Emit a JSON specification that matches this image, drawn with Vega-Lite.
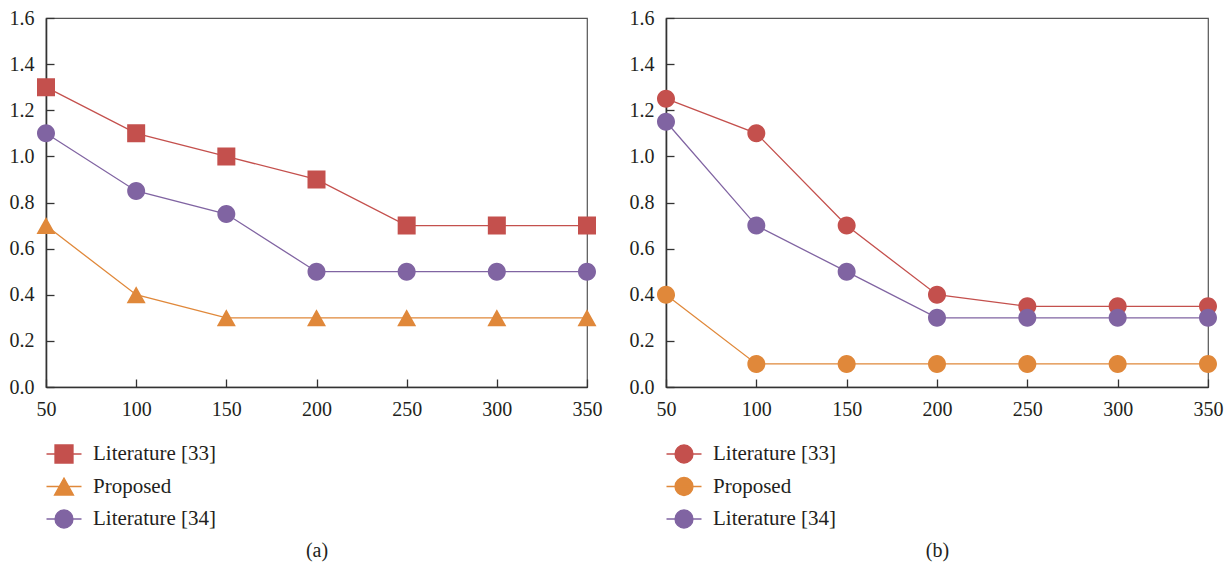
{
  "$schema": "https://vega.github.io/schema/vega-lite/v6.json",
  "padding": {"left": 8, "top": 7, "right": 5, "bottom": 5},
  "background": "white",
  "datasets": {
    "a": [
      {"n": 50, "v": 1.3, "s": "Literature [33]"},
      {"n": 100, "v": 1.1, "s": "Literature [33]"},
      {"n": 150, "v": 1.0, "s": "Literature [33]"},
      {"n": 200, "v": 0.9, "s": "Literature [33]"},
      {"n": 250, "v": 0.7, "s": "Literature [33]"},
      {"n": 300, "v": 0.7, "s": "Literature [33]"},
      {"n": 350, "v": 0.7, "s": "Literature [33]"},
      {"n": 50, "v": 0.7, "s": "Proposed"},
      {"n": 100, "v": 0.4, "s": "Proposed"},
      {"n": 150, "v": 0.3, "s": "Proposed"},
      {"n": 200, "v": 0.3, "s": "Proposed"},
      {"n": 250, "v": 0.3, "s": "Proposed"},
      {"n": 300, "v": 0.3, "s": "Proposed"},
      {"n": 350, "v": 0.3, "s": "Proposed"},
      {"n": 50, "v": 1.1, "s": "Literature [34]"},
      {"n": 100, "v": 0.85, "s": "Literature [34]"},
      {"n": 150, "v": 0.75, "s": "Literature [34]"},
      {"n": 200, "v": 0.5, "s": "Literature [34]"},
      {"n": 250, "v": 0.5, "s": "Literature [34]"},
      {"n": 300, "v": 0.5, "s": "Literature [34]"},
      {"n": 350, "v": 0.5, "s": "Literature [34]"}
    ],
    "b": [
      {"n": 50, "v": 1.25, "s": "Literature [33]"},
      {"n": 100, "v": 1.1, "s": "Literature [33]"},
      {"n": 150, "v": 0.7, "s": "Literature [33]"},
      {"n": 200, "v": 0.4, "s": "Literature [33]"},
      {"n": 250, "v": 0.35, "s": "Literature [33]"},
      {"n": 300, "v": 0.35, "s": "Literature [33]"},
      {"n": 350, "v": 0.35, "s": "Literature [33]"},
      {"n": 50, "v": 0.4, "s": "Proposed"},
      {"n": 100, "v": 0.1, "s": "Proposed"},
      {"n": 150, "v": 0.1, "s": "Proposed"},
      {"n": 200, "v": 0.1, "s": "Proposed"},
      {"n": 250, "v": 0.1, "s": "Proposed"},
      {"n": 300, "v": 0.1, "s": "Proposed"},
      {"n": 350, "v": 0.1, "s": "Proposed"},
      {"n": 50, "v": 1.15, "s": "Literature [34]"},
      {"n": 100, "v": 0.7, "s": "Literature [34]"},
      {"n": 150, "v": 0.5, "s": "Literature [34]"},
      {"n": 200, "v": 0.3, "s": "Literature [34]"},
      {"n": 250, "v": 0.3, "s": "Literature [34]"},
      {"n": 300, "v": 0.3, "s": "Literature [34]"},
      {"n": 350, "v": 0.3, "s": "Literature [34]"}
    ]
  },
  "config": {
    "font": "Liberation Serif",
    "view": {"stroke": "#555555", "strokeWidth": 1.2},
    "axis": {
      "grid": false,
      "domainColor": "#333333",
      "domainWidth": 1.6,
      "tickColor": "#333333",
      "tickWidth": 1.3,
      "tickSize": -8,
      "labelFontSize": 20,
      "labelColor": "#231f20",
      "labelFont": "Liberation Serif",
      "titleFont": "Liberation Serif",
      "titleFontSize": 20,
      "titleFontWeight": "normal",
      "titleColor": "#231f20"
    },
    "legend": {
      "labelFont": "Liberation Serif",
      "labelFontSize": 21,
      "labelColor": "#231f20"
    },
    "concat": {"spacing": 22}
  },
  "resolve": {
    "scale": {"color": "independent", "stroke": "independent", "shape": "independent"},
    "legend": {"color": "independent", "stroke": "independent", "shape": "independent"}
  },
  "hconcat": [
    {
      "width": 541,
      "height": 369,
      "data": {"name": "a"},
      "encoding": {
        "x": {"field": "n", "type": "quantitative",
          "scale": {"domain": [50, 350], "nice": false, "zero": false},
          "axis": {"values": [50, 100, 150, 200, 250, 300, 350], "title": "(a)", "titlePadding": 121, "labelPadding": 20, "labelFlush": false}},
        "y": {"field": "v", "type": "quantitative",
          "scale": {"domain": [0, 1.6], "nice": false},
          "axis": {"values": [0, 0.2, 0.4, 0.6, 0.8, 1.0, 1.2, 1.4, 1.6], "format": ".1f", "title": null, "labelPadding": 20, "labelFlush": false}}
      },
      "resolve": {
        "scale": {"color": "independent", "stroke": "independent", "shape": "independent"},
        "legend": {"color": "independent", "stroke": "independent", "shape": "independent"}
      },
      "layer": [
        {
          "mark": {"type": "line", "strokeWidth": 1.3},
          "encoding": {
            "color": {"field": "s", "type": "nominal",
              "scale": {"domain": ["Literature [33]", "Proposed", "Literature [34]"], "range": ["#c4504d", "#e0883a", "#8064a2"]},
              "legend": null}
          }
        },
        {
          "mark": {"type": "point", "filled": true, "opacity": 1, "size": 400},
          "encoding": {
            "color": {"field": "s", "type": "nominal",
              "scale": {"domain": ["Literature [33]", "Proposed", "Literature [34]"], "range": ["#c4504d", "#e0883a", "#8064a2"]},
              "legend": {"orient": "none", "legendX": 7, "legendY": 425, "title": null, "labelOffset": 18, "rowPadding": 8.5, "symbolSize": 400, "symbolStrokeWidth": 1.3, "padding": 0}},
            "stroke": {"field": "s", "type": "nominal",
              "scale": {"domain": ["Literature [33]", "Proposed", "Literature [34]"], "range": ["#c4504d", "#e0883a", "#8064a2"]},
              "legend": {"orient": "none", "legendX": 7, "legendY": 425, "title": null, "labelOffset": 18, "rowPadding": 8.5, "symbolSize": 400, "symbolStrokeWidth": 1.3, "padding": 0}},
            "shape": {"field": "s", "type": "nominal",
              "scale": {"domain": ["Literature [33]", "Proposed", "Literature [34]"], "range": ["M-1.75,0H1.75M-0.9,-0.9H0.9V0.9H-0.9Z", "M-1.75,0H1.75M0,-0.85L0.95,0.85H-0.95Z", "M-1.75,0H1.75M0.9,0A0.9,0.9,0,1,1,-0.9,0A0.9,0.9,0,1,1,0.9,0Z"]},
              "legend": {"orient": "none", "legendX": 7, "legendY": 425, "title": null, "labelOffset": 18, "rowPadding": 8.5, "symbolSize": 400, "symbolStrokeWidth": 1.3, "padding": 0}},
            "strokeWidth": {"value": 0}
          }
        }
      ]
    },
    {
      "width": 542,
      "height": 369,
      "data": {"name": "b"},
      "encoding": {
        "x": {"field": "n", "type": "quantitative",
          "scale": {"domain": [50, 350], "nice": false, "zero": false},
          "axis": {"values": [50, 100, 150, 200, 250, 300, 350], "title": "(b)", "titlePadding": 121, "labelPadding": 20, "labelFlush": false}},
        "y": {"field": "v", "type": "quantitative",
          "scale": {"domain": [0, 1.6], "nice": false},
          "axis": {"values": [0, 0.2, 0.4, 0.6, 0.8, 1.0, 1.2, 1.4, 1.6], "format": ".1f", "title": null, "labelPadding": 20, "labelFlush": false}}
      },
      "resolve": {
        "scale": {"color": "independent", "stroke": "independent", "shape": "independent"},
        "legend": {"color": "independent", "stroke": "independent", "shape": "independent"}
      },
      "layer": [
        {
          "mark": {"type": "line", "strokeWidth": 1.3},
          "encoding": {
            "color": {"field": "s", "type": "nominal",
              "scale": {"domain": ["Literature [33]", "Proposed", "Literature [34]"], "range": ["#c4504d", "#e0883a", "#8064a2"]},
              "legend": null}
          }
        },
        {
          "mark": {"type": "point", "filled": true, "opacity": 1, "size": 400},
          "encoding": {
            "color": {"field": "s", "type": "nominal",
              "scale": {"domain": ["Literature [33]", "Proposed", "Literature [34]"], "range": ["#c4504d", "#e0883a", "#8064a2"]},
              "legend": {"orient": "none", "legendX": 7, "legendY": 425, "title": null, "labelOffset": 18, "rowPadding": 8.5, "symbolSize": 400, "symbolStrokeWidth": 1.3, "padding": 0}},
            "stroke": {"field": "s", "type": "nominal",
              "scale": {"domain": ["Literature [33]", "Proposed", "Literature [34]"], "range": ["#c4504d", "#e0883a", "#8064a2"]},
              "legend": {"orient": "none", "legendX": 7, "legendY": 425, "title": null, "labelOffset": 18, "rowPadding": 8.5, "symbolSize": 400, "symbolStrokeWidth": 1.3, "padding": 0}},
            "shape": {"field": "s", "type": "nominal",
              "scale": {"domain": ["Literature [33]", "Proposed", "Literature [34]"], "range": ["M-1.75,0H1.75M0.9,0A0.9,0.9,0,1,1,-0.9,0A0.9,0.9,0,1,1,0.9,0Z", "M-1.75,0H1.75M0.9,0A0.9,0.9,0,1,1,-0.9,0A0.9,0.9,0,1,1,0.9,0Z", "M-1.75,0H1.75M0.9,0A0.9,0.9,0,1,1,-0.9,0A0.9,0.9,0,1,1,0.9,0Z"]},
              "legend": {"orient": "none", "legendX": 7, "legendY": 425, "title": null, "labelOffset": 18, "rowPadding": 8.5, "symbolSize": 400, "symbolStrokeWidth": 1.3, "padding": 0}},
            "strokeWidth": {"value": 0}
          }
        }
      ]
    }
  ]
}
